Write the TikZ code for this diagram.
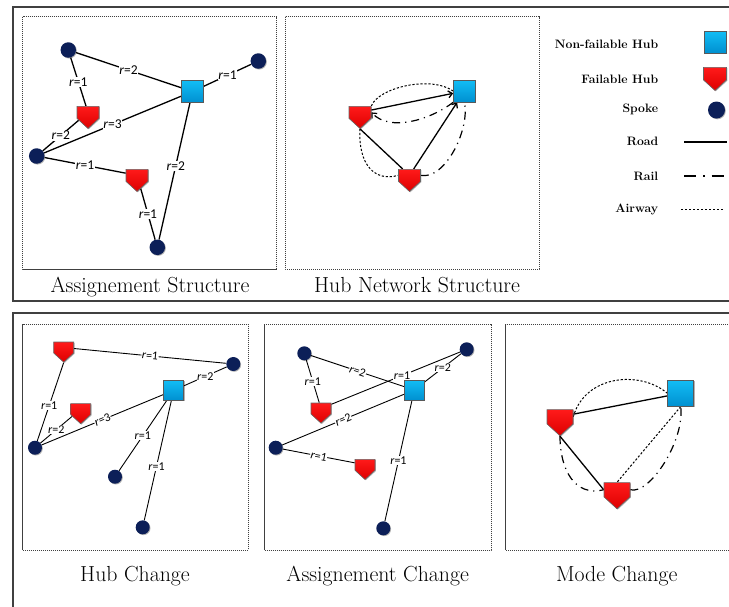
\documentclass[tikz,border=0pt]{standalone}
\usepackage{fontspec}
\newfontfamily\lblfont{Carlito}
\usetikzlibrary{shapes.symbols,arrows.meta,shadows,backgrounds}
\definecolor{sqtop}{HTML}{12BDF5}
\definecolor{sqbot}{HTML}{0090D0}
\definecolor{redtop}{HTML}{FF1A1A}
\definecolor{redbot}{HTML}{DD0000}
\definecolor{spkcol}{HTML}{0C1F58}
\newcommand{\rlab}[1]{\textit{r}=#1}
\tikzset{
 shd/.style={drop shadow={shadow xshift=0.8pt,shadow yshift=-0.8pt,opacity=0.3,fill=black}},
 sq/.style={rectangle, draw=black!65, line width=0.6pt, top color=sqtop, bottom color=sqbot, minimum size=#1, inner sep=0pt, shd},
 fl/.style={signal, signal to=south, signal from=nowhere, signal pointer angle=95, draw=black!60, line width=0.6pt, top color=redtop, bottom color=redbot, minimum width=#1, minimum height=0.55*#1, inner sep=0pt, anchor=north, shd},
 spk/.style={circle, fill=spkcol, minimum size=#1, inner sep=0pt, shd},
 road/.style={draw=black, line width=1.3pt},
 roadt/.style={draw=black, line width=0.9pt},
 rail/.style={draw=black, line width=1.2pt, dash pattern=on 8pt off 5pt on 1.2pt off 5pt},
 airway/.style={draw=black, line width=1.0pt, dash pattern=on 2.2pt off 1.8pt},
 arr/.style={-{Straight Barb[length=4pt,width=7pt]}},
 lbl/.style={font=\lblfont\fontsize{13.5}{14}\selectfont, fill=white, inner sep=0.6pt},
 lbls/.style={font=\lblfont\fontsize{12}{13}\selectfont, fill=white, inner sep=0.5pt},
 panel/.style={draw=black!75, line width=0.6pt, dash pattern=on 1.2pt off 0.8pt},
 frame/.style={draw=black!75, line width=1.3pt},
 capt/.style={font=\fontsize{21.8}{24}\selectfont, anchor=base},
 legt/.style={font=\bfseries\fontsize{12.2}{14}\selectfont, anchor=base east},
}
\begin{document}
\begin{tikzpicture}[x=1pt,y=-1pt]
\useasboundingbox (0,0) rectangle (729,606);
\clip (0,0) rectangle (729,606);
% frames
\draw[frame] (13,7) rectangle (760,301);
\draw[frame] (13,313) rectangle (760,640);
% panels
\draw[panel] (22.7,16.7) rectangle (276.7,269);
\draw[panel] (285.3,16.7) rectangle (539,269);
\draw[panel] (22.7,324.3) rectangle (248.3,550);
\draw[panel] (264.3,324.3) rectangle (491,550);
\draw[panel] (505.7,324.3) rectangle (760,550);
% captions
\node[capt] (cap1) at (150,292.5) {Assignement Structure};
\node[capt] (cap2) at (417,292.5) {Hub Network Structure};
\node[capt] (cap3) at (135,581) {Hub Change};
\node[capt] (cap4) at (377.7,581) {Assignement Change};
\node[capt] (cap5) at (616.7,581) {Mode Change};

% ---------- Panel 1: Assignement Structure
\node[spk=15.5] (a1) at (68.3,50) {};
\node[spk=15.5] (b1) at (258.3,61) {};
\node[sq=22] (h1) at (192.5,91.5) {};
\node[fl=22] (f11) at (88,106) {};
\node[spk=15.5] (c1) at (36.7,156) {};
\node[fl=22] (f12) at (137,169) {};
\node[spk=15.5] (d1) at (157.3,247.3) {};
\begin{pgfonlayer}{background}
\draw[road] (a1) -- node[lbl] (l11) {\rlab{2}} (h1);
\draw[road] (b1) -- node[lbl] (l12) {\rlab{1}} (h1);
\draw[road] (a1) -- node[lbl] (l13) {\rlab{1}} (f11);
\draw[road] (f11) -- node[lbl] (l14) {\rlab{2}} (c1);
\draw[road] (c1) -- node[lbl] (l15) {\rlab{3}} (h1);
\draw[road] (c1) -- node[lbl] (l16) {\rlab{1}} (f12);
\draw[road] (f12) -- node[lbl] (l17) {\rlab{1}} (d1);
\draw[road] (d1) -- node[lbl,pos=0.54] (l18) {\rlab{2}} (h1);
\end{pgfonlayer}

% ---------- Panel 2: Hub Network Structure
\node[sq=22] (h2) at (464.5,91) {};
\node[fl=22] (f21) at (360,106) {};
\node[fl=22] (f22) at (409.5,169) {};
\begin{pgfonlayer}{background}
\draw[road,arr] (f21) -- (h2);
\draw[road,arr] (f22) -- (h2);
\draw[road] (f21.south) -- (f22);
\draw[airway] (f21.north east) .. controls (378,88) and (430,75) .. (h2.west);
\draw[rail,arr] (h2.south west) .. controls (430,120) and (390,132) .. (f21.east);
\draw[airway] (f21.south) .. controls (358,165) and (375,182) .. (f22.west);
\draw[rail] (f22.east) .. controls (445,180) and (470,130) .. (h2.south);
\end{pgfonlayer}

% ---------- Legend
\node[legt] (t1) at (661.7,48.3) {Non-failable Hub};
\node[legt] (t2) at (661.7,83.3) {Failable Hub};
\node[legt] (t3) at (661.7,112.7) {Spoke};
\node[legt] (t4) at (661.7,145) {Road};
\node[legt] (t5) at (661.7,180) {Rail};
\node[legt] (t6) at (661.7,212) {Airway};
\node[sq=22] (ls1) at (715,42) {};
\node[fl=23] (ls2) at (715,67) {};
\node[spk=17] (ls3) at (716.5,110) {};
\coordinate (r1a) at (684,142); \coordinate (r1b) at (727,142);
\coordinate (r2a) at (684,176); \coordinate (r2b) at (727,176);
\coordinate (r3a) at (681,209); \coordinate (r3b) at (724,209);
\draw[road] (r1a) -- (r1b);
\draw[rail, dash pattern=on 12pt off 7pt on 1.5pt off 7pt] (r2a) -- (r2b);
\draw[airway] (r3a) -- (r3b);

% ---------- Panel 3: Hub Change
\node[fl=20] (f31) at (63.7,341.7) {};
\node[spk=14] (s31) at (233.3,364) {};
\node[sq=20] (h3) at (173.7,390.3) {};
\node[fl=20] (f32) at (80.7,403.3) {};
\node[spk=14] (c3) at (35,447.7) {};
\node[spk=14] (s32) at (115,476.7) {};
\node[spk=14] (s33) at (142.7,527.3) {};
\begin{pgfonlayer}{background}
\draw[roadt] (f31) -- node[lbls,sloped] (l31) {\rlab{1}} (s31);
\draw[roadt] (s31) -- node[lbls] (l32) {\rlab{2}} (h3);
\draw[roadt] (f31.south) -- node[lbls,pos=0.55] (l33) {\rlab{1}} (c3);
\draw[roadt] (f32) -- node[lbls] (l34) {\rlab{2}} (c3);
\draw[roadt] (c3) -- node[lbls,sloped] (l35) {\rlab{3}} (h3);
\draw[roadt] (h3) -- node[lbls] (l36) {\rlab{1}} (s32);
\draw[roadt] (h3) -- node[lbls,pos=0.55] (l37) {\rlab{1}} (s33);
\end{pgfonlayer}

% ---------- Panel 4: Assignement Change
\node[spk=14] (a4) at (304.3,353.3) {};
\node[spk=14] (b4) at (466.7,349.3) {};
\node[sq=20] (h4) at (414.3,390) {};
\node[fl=20] (f41) at (321,402.7) {};
\node[spk=14] (c4) at (275.7,447.7) {};
\node[fl=20] (f42) at (365,459) {};
\node[spk=14] (d4) at (383.3,528.3) {};
\begin{pgfonlayer}{background}
\draw[roadt] (a4) -- node[lbls,sloped] (l41) {\rlab{2}} (h4);
\draw[roadt] (a4) -- node[lbls] (l42) {\rlab{1}} (f41);
\draw[roadt] (f41) -- node[lbls,pos=0.55] (l43) {\rlab{1}} (b4);
\draw[roadt] (b4) -- node[lbls] (l44) {\rlab{2}} (h4);
\draw[roadt] (c4) -- node[lbls,sloped] (l45) {\rlab{2}} (h4);
\draw[roadt] (c4) -- node[lbls,sloped] (l46) {\rlab{1}} (f42);
\draw[roadt] (h4) -- node[lbls] (l47) {\rlab{1}} (d4);
\end{pgfonlayer}

% ---------- Panel 5: Mode Change
\node[sq=26] (h5) at (680.7,393.3) {};
\node[fl=26] (f51) at (560,409.3) {};
\node[fl=26] (f52) at (617,482.3) {};
\begin{pgfonlayer}{background}
\draw[road] (f51) -- (h5);
\draw[road] (f51.south) -- (f52.west);
\draw[airway] (f51.east) .. controls (585,375) and (640,370) .. (h5.west);
\draw[airway] (h5.south) -- (f52.north);
\draw[rail] (f51.south) .. controls (560,470) and (575,497) .. (f52.west);
\draw[rail] (f52.east) .. controls (650,495) and (685,440) .. (h5.south);
\end{pgfonlayer}
\end{tikzpicture}
\end{document}
